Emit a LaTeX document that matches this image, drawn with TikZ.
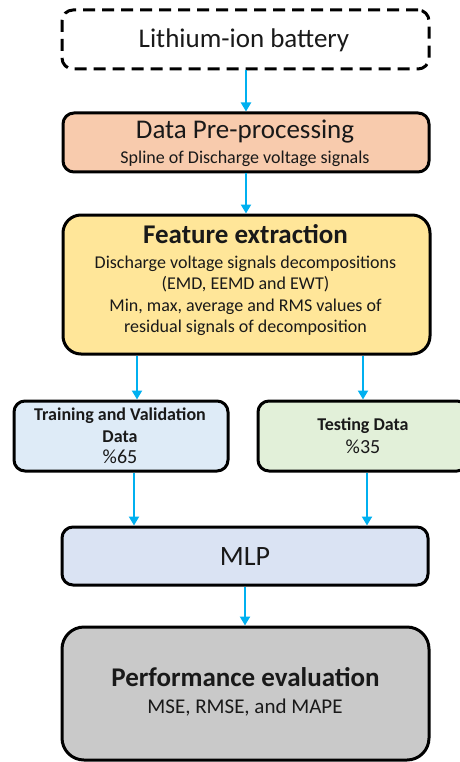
\documentclass[tikz,border=0pt]{standalone}
\usepackage{fontspec}
\setmainfont{Carlito}
\usetikzlibrary{arrows.meta}
\definecolor{peach}{HTML}{F8CBAD}
\definecolor{gold}{HTML}{FFE699}
\definecolor{paleblue}{HTML}{DEEBF7}
\definecolor{palegreen}{HTML}{E2F0D9}
\definecolor{mlpblue}{HTML}{DAE3F3}
\definecolor{evalgray}{HTML}{C9C9C9}
\definecolor{arrowblue}{HTML}{00B0F0}
\tikzset{
  box/.style={draw=black, line width=3pt, rounded corners=11pt, inner sep=0pt},
  txt/.style={anchor=base, inner sep=0pt, text=black!90},
  link/.style={draw=arrowblue, line width=2.6pt, -{Triangle[length=9pt,width=10pt]}},
}
\newcommand{\fs}[1]{\fontsize{#1}{#1}\selectfont}
\begin{document}
\begin{tikzpicture}[x=1pt,y=-1pt]
\useasboundingbox (0,0) rectangle (459,762);
% boxes
\node[box, dash pattern=on 12pt off 7pt, minimum width=367pt, minimum height=59pt] (bat) at (245.5,39.5) {};
\node[box, fill=peach, minimum width=366pt, minimum height=59pt] (pre) at (246,142.5) {};
\node[box, fill=gold, minimum width=367pt, minimum height=139pt, rounded corners=18pt] (feat) at (246.5,284.5) {};
\node[box, fill=paleblue, minimum width=214pt, minimum height=70pt] (train) at (121,436) {};
\node[box, fill=palegreen, minimum width=210pt, minimum height=70pt] (test) at (363,436) {};
\node[box, fill=mlpblue, minimum width=366pt, minimum height=58pt] (mlp) at (245,556) {};
\node[box, fill=evalgray, minimum width=367pt, minimum height=133pt, rounded corners=22pt] (eval) at (245.5,693.5) {};
% texts
\node[txt, font=\fs{27}] (batT) at (244,48) {Lithium-ion battery};
\node[txt, font=\fs{27}] (preT) at (245,139) {Data Pre-processing};
\node[txt, font=\fs{18}] (preS) at (245,164) {Spline of Discharge voltage signals};
\node[txt, font=\fs{27}\bfseries] (featT) at (245.5,243) {Feature extraction};
\node[txt, font=\fs{18}] (featA) at (245.5,268) {Discharge voltage signals decompositions};
\node[txt, font=\fs{18}] (featB) at (245.5,289) {(EMD, EEMD and EWT)};
\node[txt, font=\fs{18}] (featC) at (245.5,311) {Min, max, average and RMS values of};
\node[txt, font=\fs{18}] (featD) at (245.5,332) {residual signals of decomposition};
\node[txt, font=\fs{18}\bfseries] (trainA) at (120,420) {Training and Validation};
\node[txt, font=\fs{18}\bfseries] (trainB) at (120,442) {Data};
\node[txt, font=\fs{20}] (trainC) at (120,463) {\%65};
\node[txt, font=\fs{18}\bfseries] (testA) at (363,430) {Testing Data};
\node[txt, font=\fs{20}] (testB) at (363,453) {\%35};
\node[txt, font=\fs{28}] (mlpT) at (245,565) {MLP};
\node[txt, font=\fs{27}\bfseries] (evalT) at (245.5,686) {Performance evaluation};
\node[txt, font=\fs{21}] (evalS) at (245,713) {MSE, RMSE, and MAPE};
% connectors
\draw[link] (bat.south -| 246,0) -- (pre.north -| 246,0);
\draw[link] (pre.south -| 246,0) -- (feat.north -| 246,0);
\draw[link] (feat.south -| 137,0) -- (train.north -| 137,0);
\draw[link] (feat.south -| 363,0) -- (test.north -| 363,0);
\draw[link] (train.south -| 134,0) -- (mlp.north -| 134,0);
\draw[link] (test.south -| 367,0) -- (mlp.north -| 367,0);
\draw[link] (mlp.south -| 245,0) -- (eval.north -| 245,0);
\end{tikzpicture}
\end{document}
